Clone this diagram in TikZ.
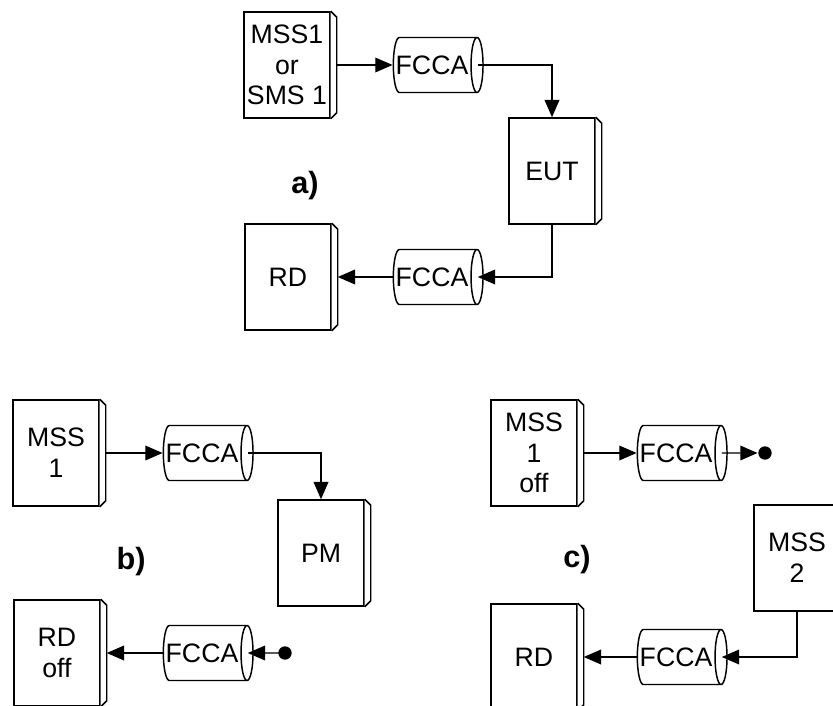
\documentclass[tikz,border=0pt]{standalone}
\usepackage{fontspec}
\setmainfont{Liberation Sans}
\usetikzlibrary{shapes.geometric,arrows.meta}

\tikzset{
    box/.style={draw, rectangle, minimum width=64.5pt, minimum height=79.5pt, align=center, inner sep=0pt},
    cyl/.style={draw, cylinder, minimum width=41.25pt, minimum height=66.75pt, aspect=0.22,
        inner xsep=1.5pt, inner ysep=13.4pt},
    dot/.style={circle, fill, inner sep=0pt, minimum size=10pt},
    arr/.style={-{Triangle[length=13pt,width=11pt]}},
    lbl/.style={font=\fontsize{23}{27}\selectfont\bfseries},
}

\begin{document}
\begin{tikzpicture}[x=0.75pt, y=-0.75pt, line width=1.1pt,
        every node/.style={font=\fontsize{20}{23}\selectfont}]
            \useasboundingbox (0,0) rectangle (833,706);
            \clip (0,0) rectangle (833,706);

            % a)
            \node[box] (mssa) at (287,65) {MSS1\\or\\SMS 1};
            \node[cyl] (fccaa) at (432,65) {FCCA};
            \node[box] (eut) at (552,171) {EUT};
            \node[cyl] (fccab) at (432,277) {FCCA};
            \node[box] (rda) at (288,277) {RD};
            \node[lbl] (laba) at (305,186) {a)};

            \draw[arr] ([xshift=4.5pt]mssa.east) -- (fccaa.west);
            \draw[arr] ([xshift=-4.5pt]fccaa.east) -| (eut.north);
            \draw[arr] (eut.south) |- ([xshift=-4.5pt]fccab.east);
            \draw[arr] (fccab.west) -- ([xshift=4.5pt]rda.east);

            % b)
            \node[box] (mssb) at (56,453) {MSS\\1};
            \node[cyl] (fccb1) at (202,453) {FCCA};
            \node[box] (pm) at (321,553) {PM};
            \node[lbl] (labb) at (131,562) {b)};
            \node[box] (rdb) at (57,653) {RD\\off};
            \node[cyl] (fccb2) at (202,653) {FCCA};
            \node[dot] (dotb) at (285,653) {};

            \draw[arr] ([xshift=4.5pt]mssb.east) -- (fccb1.west);
            \draw[arr] ([xshift=-4.5pt]fccb1.east) -| (pm.north);
            \draw[arr] (dotb.center) -- ([xshift=-4.5pt]fccb2.east);
            \draw[arr] (fccb2.west) -- ([xshift=4.5pt]rdb.east);

            % c)
            \node[box] (mssc) at (534,453) {MSS\\1\\off};
            \node[cyl] (fccc1) at (676,453) {FCCA};
            \node[dot] (dotc) at (765,453) {};
            \node[box] (mss2) at (797,558) {MSS\\2};
            \node[lbl] (labc) at (577,560) {c)};
            \node[box] (rdc) at (534,657) {RD};
            \node[cyl] (fccc2) at (676,657) {FCCA};

            \draw[arr] ([xshift=4.5pt]mssc.east) -- (fccc1.west);
            \draw[arr] ([xshift=-4.5pt]fccc1.east) -- (dotc.west);
            \draw[arr] (mss2.south) |- ([xshift=-4.5pt]fccc2.east);
            \draw[arr] (fccc2.west) -- ([xshift=4.5pt]rdc.east);

            % side panels of the boxes
            \foreach \b in {mssa,eut,rda,mssb,pm,rdb,mssc,rdc}{
                \draw[fill=white] (\b.north east) -- ++(4.5pt,-4.5pt)
                    -- ([shift={(4.5pt,4.5pt)}]\b.south east) -- (\b.south east);
            }
\end{tikzpicture}
\end{document}
